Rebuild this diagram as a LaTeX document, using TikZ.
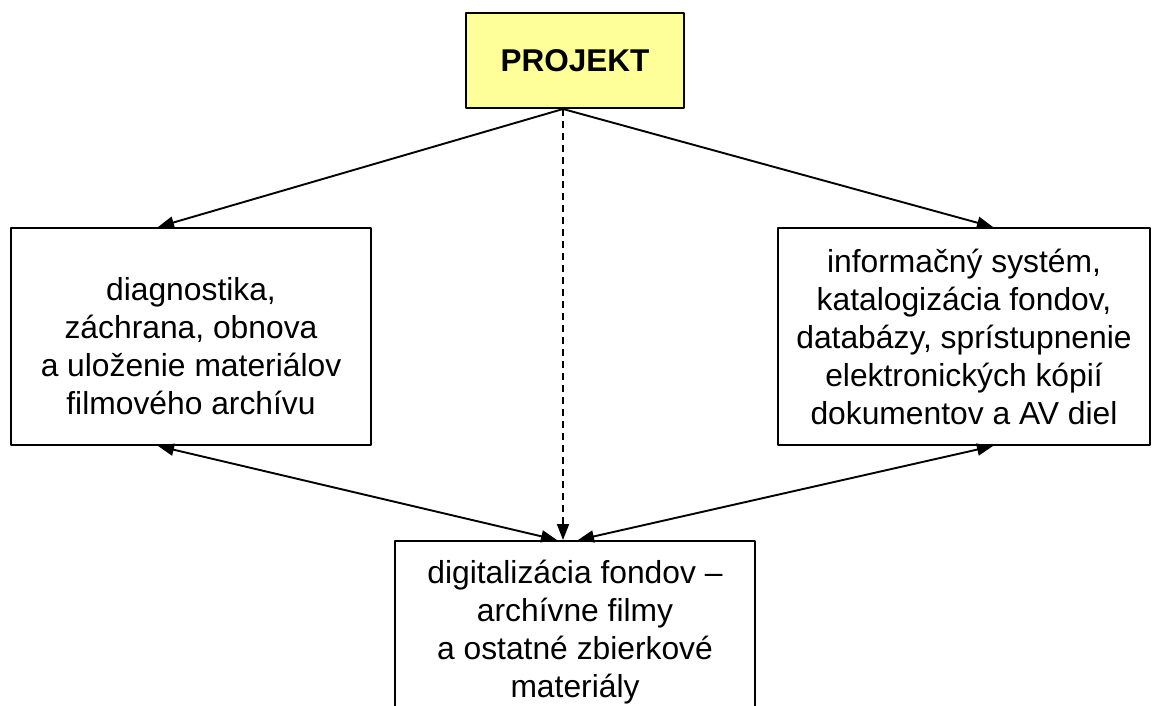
\documentclass[tikz,border=0pt]{standalone}
\usepackage{fontspec}
\setmainfont{Liberation Sans}
\usetikzlibrary{arrows.meta}
\begin{document}
\begin{tikzpicture}[x=1pt, y=-1pt, line join=round, >={Triangle[length=16pt, width=12pt]},
	box/.style={draw, line width=2pt, align=center, inner sep=0pt, font=\fontsize{31.8}{38}\selectfont},
	link/.style={line width=1.9pt}]
	\useasboundingbox (0,0) rectangle (1152,705);
	\definecolor{lightyellow}{HTML}{FFFF99}
	\node[box, fill=lightyellow, minimum width=218, minimum height=95, font=\fontsize{31.5}{38}\bfseries] (projekt) at (575,60.5) {PROJEKT};
	\node[box, minimum width=360, minimum height=217, text height=157pt] (diag) at (191,336.5) {diagnostika,\\ záchrana, obnova\\ a uloženie materiálov\\ filmového archívu};
	\node[box, minimum width=372, minimum height=217] (info) at (964,336.5) {informačný systém,\\ katalogizácia fondov,\\ databázy, sprístupnenie\\ elektronických kópií\\ dokumentov a AV diel};
	\node[box, minimum width=360, minimum height=182] (digit) at (575,632) {digitalizácia fondov --\\ archívne filmy\\ a ostatné zbierkové\\ materiály};
	\coordinate (fork) at ([xshift=-12pt]projekt.south);
	\draw[link,->] (fork) -- ([xshift=-33pt]diag.north);
	\draw[link,->] (fork) -- ([xshift=29pt]info.north);
	\draw[link,->,dash pattern=on 7pt off 5pt] (fork) -- ([xshift=-12pt]digit.north);
	\draw[link,<->] ([xshift=-33pt]diag.south) -- ([xshift=-18pt]digit.north);
	\draw[link,<->] ([xshift=29pt]info.south) -- ([xshift=3pt]digit.north);
\end{tikzpicture}
\end{document}
